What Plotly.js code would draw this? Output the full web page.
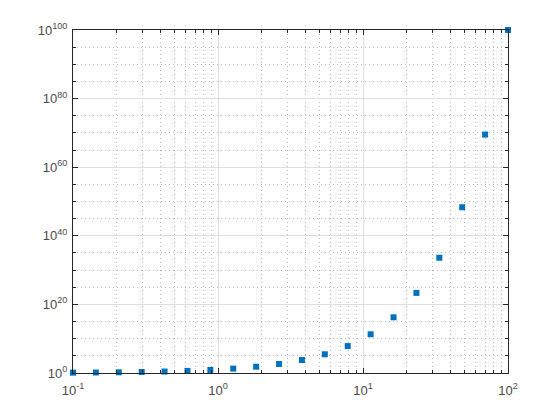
<!DOCTYPE html>
<html>
<head>
<meta charset="utf-8">
<script src="https://cdn.plot.ly/plotly-3.0.1.min.js"></script>
<style>html,body{margin:0;padding:0;background:#fff;} #chart{width:560px;height:420px;}</style>
</head>
<body>
<div id="chart"></div>
<script>
// Data (x log-spaced from 0.1 to 100, y grows as 10^x)
const xValues = [0.1, 0.1438, 0.2069, 0.2976, 0.4281, 0.6158, 0.8859, 1.274, 1.833, 2.637,
                 3.793, 5.456, 7.848, 11.29, 16.24, 23.36, 33.6, 48.33, 69.52, 100];
const yValues = [1.259, 1.393, 1.61, 1.985, 2.68, 4.13, 7.69, 18.8, 68.1, 433.5,
                 6209, 2.86e5, 7.05e7, 1.95e11, 1.74e16, 2.29e23, 3.98e33, 2.14e48, 3.31e69, 1e100];
const xTickVals = [0.1, 1, 10, 100];
const xTickText = ['10<sup>-1</sup>', '10<sup>0</sup>', '10<sup>1</sup>', '10<sup>2</sup>'];
const yTickVals = [1, 1e20, 1e40, 1e60, 1e80, 1e100];
const yTickText = ['10<sup>0</sup>', '10<sup>20</sup>', '10<sup>40</sup>', '10<sup>60</sup>', '10<sup>80</sup>', '10<sup>100</sup>'];

// minor grid positions
const xMinor = [];
[0.1, 1, 10].forEach(d => { for (let k = 2; k <= 9; k++) xMinor.push(k * d); });
const yMinor = [];
for (let e = 5; e < 100; e += 5) { if (e % 20 !== 0) yMinor.push(Math.pow(10, e)); }

const axisColor = '#262626';
const font = {family: 'Liberation Sans, Arial, sans-serif', size: 13, color: '#4a4a4a'};

const trace = {
  x: xValues, y: yValues, type: 'scatter', mode: 'markers',
  marker: {symbol: 'square', size: 6, color: '#0072BD'},
  cliponaxis: false, hoverinfo: 'none'
};

const common = {
  showline: true, linecolor: axisColor, linewidth: 1, mirror: 'ticks',
  ticks: 'inside', ticklen: 5, tickcolor: axisColor, tickwidth: 1,
  showgrid: true, gridcolor: '#dedede', gridwidth: 1, zeroline: false,
  tickmode: 'array', tickfont: font
};

const layout = {
  width: 560, height: 420,
  margin: {l: 73, r: 52, t: 30, b: 47},
  paper_bgcolor: '#ffffff', plot_bgcolor: '#ffffff',
  showlegend: false,
  xaxis: Object.assign({}, common, {
    type: 'log', range: [-1, 2], tickvals: xTickVals, ticktext: xTickText, ticklabelstandoff: 5,
    minor: {tickmode: 'array', tickvals: xMinor, ticks: 'inside', ticklen: 3, tickcolor: axisColor,
            showgrid: true, gridcolor: '#b8b8b8', griddash: '1px,3px', gridwidth: 1}
  }),
  yaxis: Object.assign({}, common, {
    type: 'log', range: [0, 100], tickvals: yTickVals, ticktext: yTickText, ticklabelstandoff: 2,
    minor: {tickmode: 'array', tickvals: yMinor, ticks: 'inside', ticklen: 3, tickcolor: axisColor,
            showgrid: true, gridcolor: '#b8b8b8', griddash: '1px,3px', gridwidth: 1}
  })
};

Plotly.newPlot('chart', [trace], layout, {staticPlot: true, displayModeBar: false});
</script>
</body>
</html>
